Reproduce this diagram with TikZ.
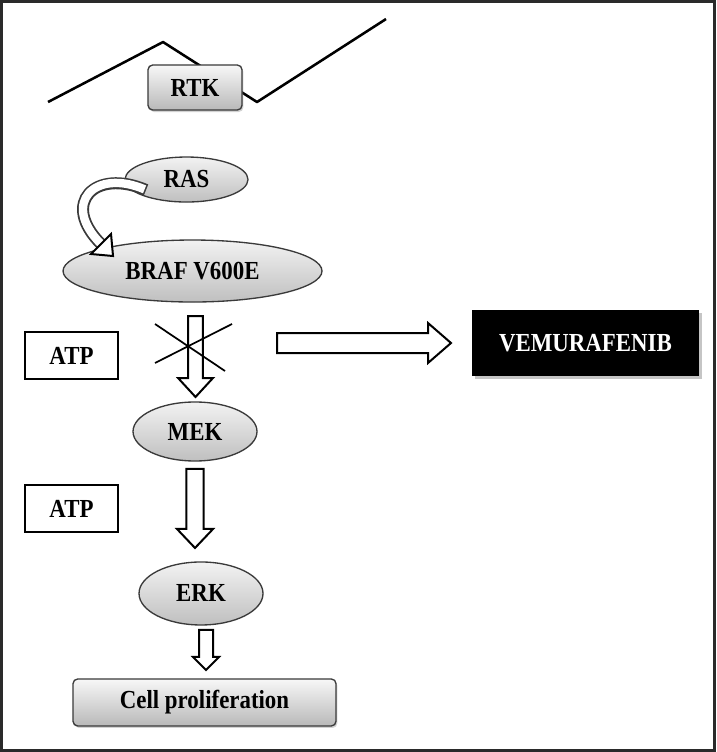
\documentclass[tikz,border=0pt]{standalone}
\usepackage{fontspec}
\setmainfont{Liberation Serif}[FakeStretch=0.88]
\usetikzlibrary{shapes.geometric,calc,shadows}
\definecolor{frame}{HTML}{2A2A2A}
\definecolor{edge}{HTML}{3A3A3A}
% hollow block arrow from coordinate #1 to coordinate #2
% #3 shaft half width, #4 head half width, #5 head length
\newcommand{\blockarrow}[5]{%
  \draw[blockarr] let \p1=(#1), \p2=(#2),
      \n1={atan2(\y2-\y1,\x2-\x1)},
      \n2={veclen(\x2-\x1,\y2-\y1)-#5} in
    ($(\p1)+(\n1+90:#3)$) -- ($(\p1)+(\n1:\n2)+(\n1+90:#3)$)
    -- ($(\p1)+(\n1:\n2)+(\n1+90:#4)$) -- (\p2)
    -- ($(\p1)+(\n1:\n2)+(\n1-90:#4)$) -- ($(\p1)+(\n1:\n2)+(\n1-90:#3)$)
    -- ($(\p1)+(\n1-90:#3)$) -- cycle;}
\begin{document}
\begin{tikzpicture}[x=0.75pt,y=-0.75pt,
  lbl/.style={font=\fontsize{19.5}{22}\selectfont\bfseries, inner sep=0pt},
  oval/.style={lbl, ellipse, draw=edge, line width=1pt, top color=gray!10, bottom color=gray!50},
  gbox/.style={lbl, rectangle, rounded corners=3.5pt, draw=edge, line width=1pt,
    top color=gray!6, bottom color=gray!55,
    drop shadow={shadow xshift=1pt, shadow yshift=-1.5pt, opacity=0.35}},
  atpbox/.style={lbl, rectangle, draw=black, line width=1.6pt, fill=white,
    minimum width=69.75pt, minimum height=35.25pt},
  blockarr/.style={draw=black, line width=1.5pt, fill=white, line join=miter},
  memb/.style={line width=1.9pt, black},
  crossline/.style={line width=1.3pt, black}]

% background and frame
\fill[white] (0,0) rectangle (716,752);
\draw[frame, line width=2.6pt] (1.7,1.7) rectangle (714.3,750.3);
\useasboundingbox (0,0) rectangle (716,752);

% membrane
\coordinate (m1) at (48,102);
\coordinate (m2) at (163,42);
\coordinate (m3) at (257,102);
\coordinate (m4) at (386,19);
\draw[memb, line join=round] (m1) -- (m2) -- (m3) -- (m4);

% nodes
\node[gbox, minimum width=70.5pt, minimum height=33.75pt] (rtk) at (195,87.5) {RTK};
\node[oval, minimum width=92.25pt, minimum height=33.75pt] (ras) at (186.5,179.5) {RAS};
\node[oval, minimum width=194.25pt, minimum height=46.5pt] (braf) at (192.5,271) {BRAF V600E};
\node[oval, minimum width=93pt, minimum height=44.25pt] (mek) at (195,431.5) {MEK};
\node[oval, minimum width=93pt, minimum height=47.25pt] (erk) at (201,593.5) {ERK};
\node[atpbox] (atp1) at (71.5,355.5) {ATP};
\node[atpbox] (atp2) at (71.5,508.5) {ATP};
\node[lbl, fill=black, text=white, minimum width=170.25pt, minimum height=49.5pt,
  drop shadow={shadow xshift=2pt, shadow yshift=-2pt, opacity=0.45}] (vem) at (585.5,343) {VEMURAFENIB};
\node[gbox, minimum width=197.25pt, minimum height=35.25pt] (cell) at (204.5,702.5) {Cell proliferation};

% curved hollow arrow RAS -> BRAF
\coordinate (cs) at (146,190);
\coordinate (ce) at (101,244);
\draw[line width=9pt, edge] (cs) .. controls (95,168) and (60,203) .. (ce);
\draw[line width=6.3pt, white, shorten <=1.2pt] (cs) .. controls (95,168) and (60,203) .. (ce);
\draw[blockarr] ($(ce)+(-10,10)$) -- ($(ce)+(12,12)$) -- ($(ce)+(10,-10)$) -- cycle;

% straight hollow arrows
\coordinate (a1s) at (195.5,316);
\coordinate (a1e) at (195.5,397);
\blockarrow{a1s}{a1e}{5.6pt}{13.1pt}{14.25pt}
\coordinate (a2s) at (277,343);
\coordinate (a2e) at (451,343);
\blockarrow{a2s}{a2e}{7.5pt}{15pt}{17.25pt}
\coordinate (a3s) at (195,469);
\coordinate (a3e) at (195,548);
\blockarrow{a3s}{a3e}{6.4pt}{13.5pt}{14.25pt}
\coordinate (a4s) at (206,630);
\coordinate (a4e) at (206,670);
\blockarrow{a4s}{a4e}{5.25pt}{9.75pt}{9.75pt}

% inhibition cross
\coordinate (x1) at (155,324);
\coordinate (x2) at (225,371);
\coordinate (x3) at (155,363);
\coordinate (x4) at (232,324);
\draw[crossline] (x1) -- (x2);
\draw[crossline] (x3) -- (x4);
\end{tikzpicture}
\end{document}
